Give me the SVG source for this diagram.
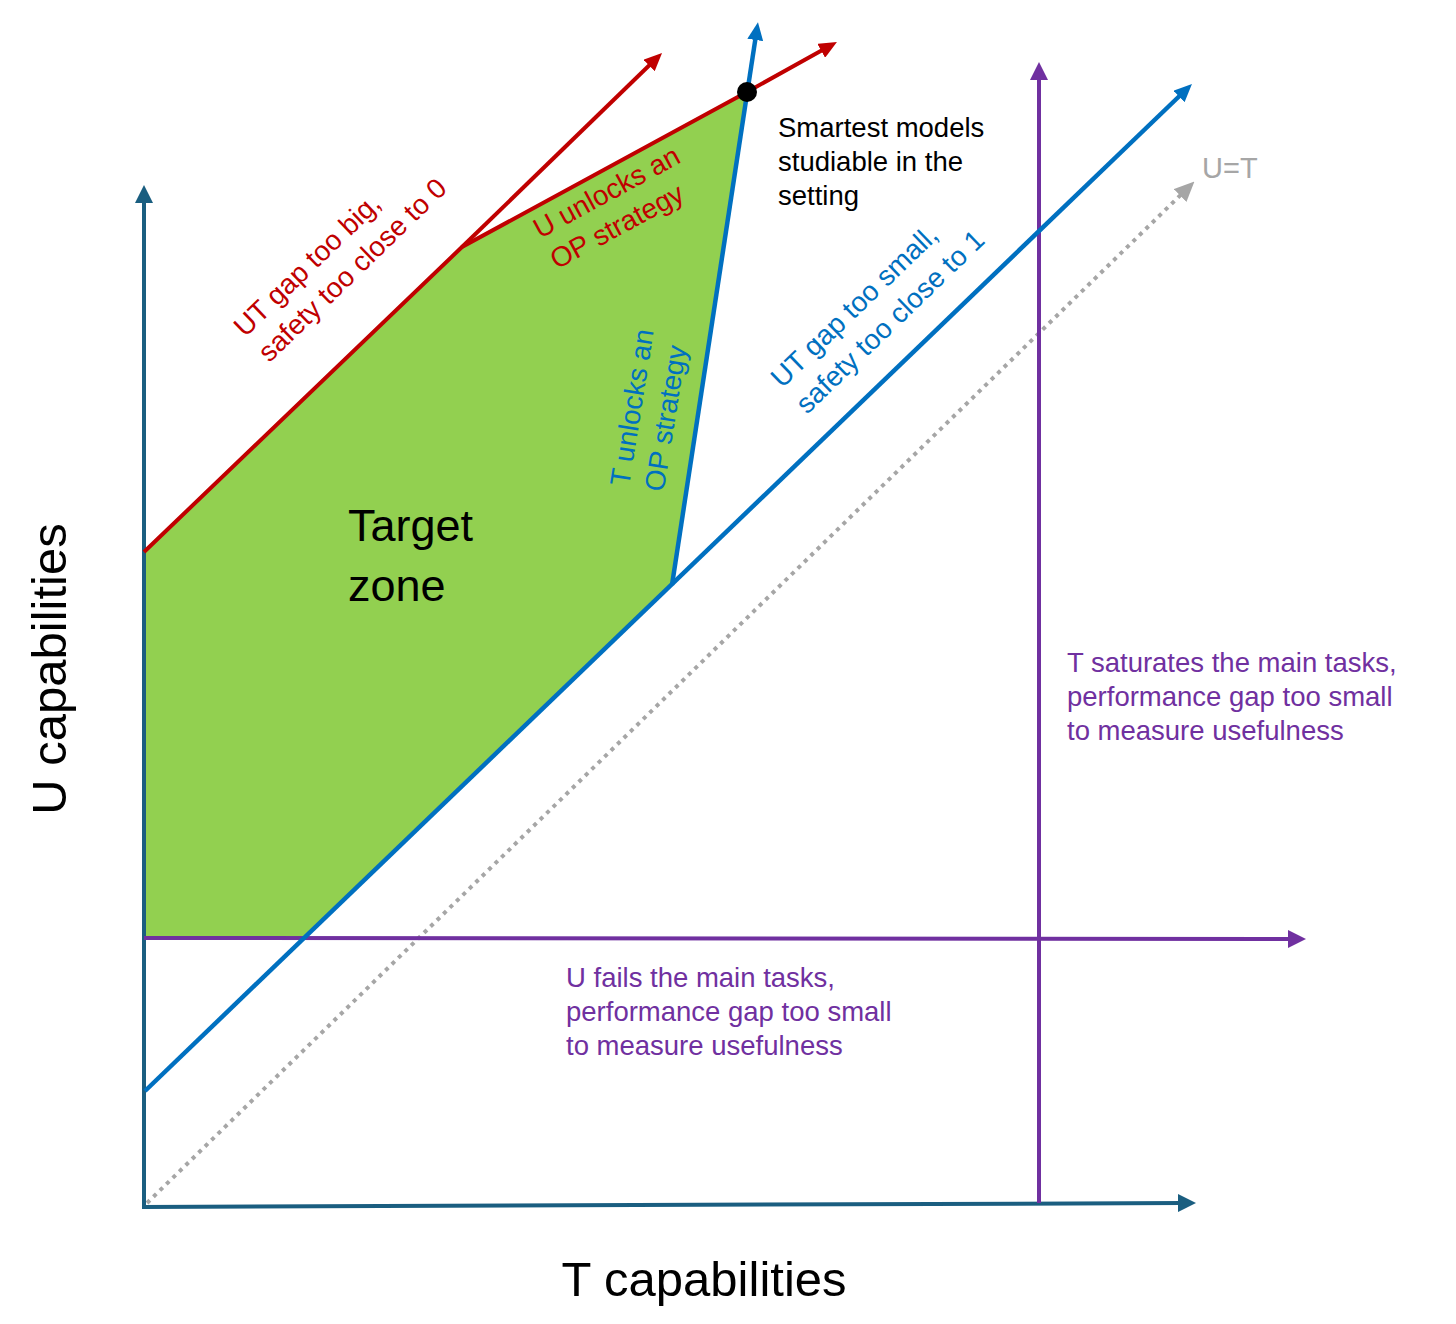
<svg xmlns="http://www.w3.org/2000/svg" width="1456" height="1324" viewBox="0 0 1456 1324">
  <style>
    text { font-family: "Liberation Sans", Arial, sans-serif; }
    .sm { font-size: 27.5px; }
    .rot { font-size: 28px; }
    .axis-label { font-size: 49px; fill: #000; }
    .red { fill: #C00000; }
    .blue { fill: #0070C0; }
    .purple { fill: #7030A0; }
    .gray { fill: #A6A6A6; }
    .ln { fill: none; stroke-linecap: butt; stroke-linejoin: miter; }
    .axis { stroke: #1A5E80; stroke-width: 4; }
    .l-red { stroke: #C00000; stroke-width: 4; }
    .l-blue { stroke: #0070C0; stroke-width: 4.5; }
    .l-purple { stroke: #7030A0; stroke-width: 4; }
    .l-gray { stroke: #A6A6A6; stroke-width: 4; stroke-dasharray: 4 5; }
  </style>
  <defs>
    <marker id="ah-axis" viewBox="0 0 18 18" refX="5" refY="9" markerWidth="18" markerHeight="18" markerUnits="userSpaceOnUse" orient="auto">
      <path d="M0,0 L18,9 L0,18 z" fill="#1A5E80"/>
    </marker>
    <marker id="ah-red" viewBox="0 0 18 16" refX="5" refY="8" markerWidth="18" markerHeight="16" markerUnits="userSpaceOnUse" orient="auto">
      <path d="M0,0 L18,8 L0,16 z" fill="#C00000"/>
    </marker>
    <marker id="ah-blue" viewBox="0 0 18 16" refX="5" refY="8" markerWidth="18" markerHeight="16" markerUnits="userSpaceOnUse" orient="auto">
      <path d="M0,0 L18,8 L0,16 z" fill="#0070C0"/>
    </marker>
    <marker id="ah-purple" viewBox="0 0 18 18" refX="5" refY="9" markerWidth="18" markerHeight="18" markerUnits="userSpaceOnUse" orient="auto">
      <path d="M0,0 L18,9 L0,18 z" fill="#7030A0"/>
    </marker>
    <marker id="ah-gray" viewBox="0 0 20 18" refX="5" refY="9" markerWidth="20" markerHeight="18" markerUnits="userSpaceOnUse" orient="auto">
      <path d="M0,0 L20,9 L0,18 z" fill="#A6A6A6"/>
    </marker>
  </defs>

  <rect width="1456" height="1324" fill="#FFFFFF"/>

  <g id="target-zone">
    <polygon points="144,552 462,247 747,92 672,583 304,938 144,938" fill="#92D050"/>
    <text x="348" y="541" font-size="45" fill="#000">Target</text>
    <text x="348" y="601" font-size="45" fill="#000">zone</text>
  </g>

  <g id="connectors">
    <line id="u-equals-t" class="ln l-gray" x1="147" y1="1203" x2="1183.7" y2="192" marker-end="url(#ah-gray)"/>
    <line id="y-axis" class="ln axis" x1="144" y1="1208" x2="144" y2="198" marker-end="url(#ah-axis)"/>
    <line id="x-axis" class="ln axis" x1="142" y1="1207" x2="1183" y2="1203" marker-end="url(#ah-axis)"/>
    <line id="u-fails-line" class="ln l-purple" x1="144" y1="938" x2="1293" y2="939" marker-end="url(#ah-purple)"/>
    <line id="t-saturates-line" class="ln l-purple" x1="1039" y1="1203" x2="1039" y2="75" marker-end="url(#ah-purple)"/>
    <line id="gap-small-line" class="ln l-blue" x1="145" y1="1091" x2="1182.6" y2="93" marker-end="url(#ah-blue)"/>
    <line id="t-unlocks-line" class="ln l-blue" x1="672" y1="585" x2="756" y2="35" marker-end="url(#ah-blue)"/>
    <polyline id="gap-big-line" class="ln l-red" points="144,552 462,247 747,92 825.6,48.3" marker-end="url(#ah-red)"/>
    <line id="gap-big-extension" class="ln l-red" x1="462" y1="247" x2="652.7" y2="62" marker-end="url(#ah-red)"/>
  </g>

  <g id="smartest-point">
    <circle cx="747" cy="92" r="10" fill="#000"/>
    <text class="sm" fill="#000"><tspan x="778" y="137">Smartest models</tspan><tspan x="778" y="171">studiable in the</tspan><tspan x="778" y="205">setting</tspan></text>
  </g>

  <g id="label-gap-big">
    <text class="rot red" transform="translate(245,338) rotate(-44)"><tspan x="0" y="0">UT gap too big,</tspan><tspan x="0" y="35">safety too close to 0</tspan></text>
  </g>

  <g id="label-u-unlocks">
    <text class="rot red" transform="translate(540,239) rotate(-28.5)"><tspan x="0" y="0">U unlocks an</tspan><tspan x="0" y="35">OP strategy</tspan></text>
  </g>

  <g id="label-t-unlocks">
    <text class="rot blue" transform="translate(629,487) rotate(-81)"><tspan x="0" y="0">T unlocks an</tspan><tspan x="0" y="35">OP strategy</tspan></text>
  </g>

  <g id="label-gap-small">
    <text class="rot blue" transform="translate(782,389) rotate(-44)"><tspan x="0" y="0">UT gap too small,</tspan><tspan x="0" y="36">safety too close to 1</tspan></text>
  </g>

  <g id="label-u-equals-t">
    <text x="1202" y="178" font-size="29" class="gray">U=T</text>
  </g>

  <g id="label-t-saturates">
    <text class="sm purple"><tspan x="1067" y="672">T saturates the main tasks,</tspan><tspan x="1067" y="706">performance gap too small</tspan><tspan x="1067" y="740">to measure usefulness</tspan></text>
  </g>

  <g id="label-u-fails">
    <text class="sm purple"><tspan x="566" y="987">U fails the main tasks,</tspan><tspan x="566" y="1021">performance gap too small</tspan><tspan x="566" y="1055">to measure usefulness</tspan></text>
  </g>

  <g id="axis-label-u">
    <text class="axis-label" text-anchor="middle" transform="translate(66,669) rotate(-90)">U capabilities</text>
  </g>

  <g id="axis-label-t">
    <text class="axis-label" text-anchor="middle" x="704" y="1296">T capabilities</text>
  </g>
</svg>
